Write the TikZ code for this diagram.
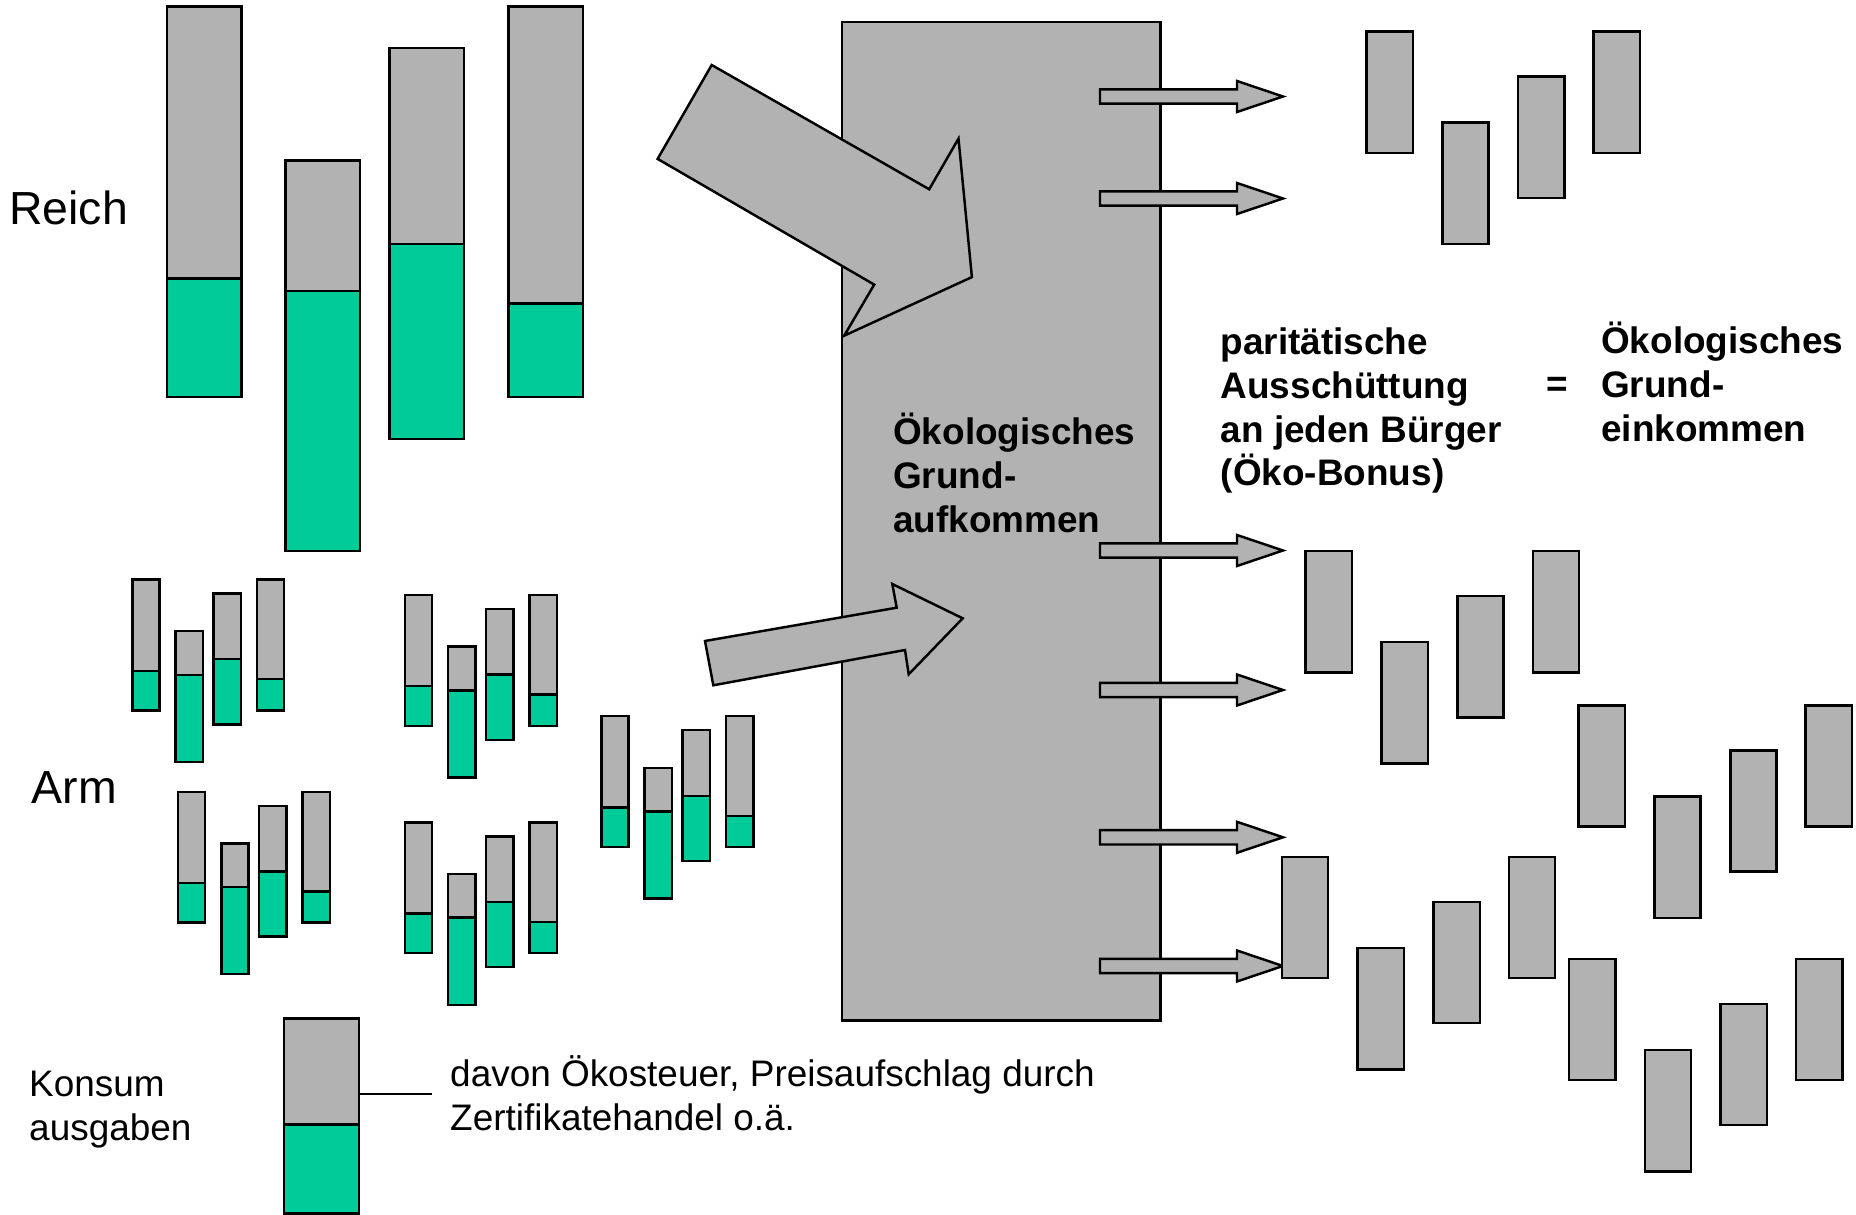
\documentclass[tikz,border=0pt]{standalone}
\usepackage{fontspec}
\setmainfont{Liberation Sans}
\usetikzlibrary{positioning}
\definecolor{barGrey}{RGB}{178,178,178}
\definecolor{ecoGreen}{RGB}{0,204,153}

\begin{document}
\begin{tikzpicture}[x=0.01cm, y=-0.01cm, line width=0.7pt,
    consumption/.style={draw, fill=barGrey},
    ecotax/.style={draw, fill=ecoGreen},
    txt/.style={anchor=base west, inner sep=0pt, align=left, font=\fontsize{10.5}{12.4}\selectfont},
    boldtxt/.style={txt, font=\fontsize{10.5}{12.4}\selectfont\bfseries},
    bigtxt/.style={anchor=base west, inner sep=0pt, font=\fontsize{13.2}{15}\selectfont}]
    \useasboundingbox (0,0) rectangle (1856,1215);

    % Reich: one group at full size, Arm: five small copies of it
    \foreach \gx/\gy/\sx/\sy in {166.9/6.4/1/1, 132.3/579.6/.365/.335, 404.9/595.1/.365/.335,
        178/791.8/.365/.335, 404.9/822.3/.365/.335, 601.4/716.2/.365/.335}{
        \begin{scope}[shift={(\gx,\gy)}, xscale=\sx, yscale=\sy]
            \foreach \dx/\dy/\cut in {0/0/272.1, 118.6/153.9/130.7, 222.6/41.8/195.7, 341.6/0/297.1}{
                \filldraw[consumption] (\dx,\dy) rectangle ++(74.5,\cut);
                \filldraw[ecotax] (\dx,\dy+\cut) rectangle (\dx+74.5,\dy+390.7);
            }
        \end{scope}
    }
    \node[bigtxt] (reich) at (8,225) {Reich};
    \node[bigtxt] (arm) at (30.5,803.5) {Arm};

    % the pool (multi-line nodes sit on their last line)
    \node[consumption, anchor=north west, inner sep=0pt, minimum width=3.18cm, minimum height=9.98cm] (pool) at (841,20.7) {};
    \node[boldtxt] (pooltext) at (892,532) {Ökologisches\\Grund-\\aufkommen};

    % money flowing in
    \filldraw[consumption] (711.7,65) -- (929.2,189.3) -- (958.5,138.6) -- (971.9,277.1)
        -- (844.2,335.7) -- (874.2,284.6) -- (657.6,158.9) -- cycle;
    \filldraw[consumption] (705,641) -- (896.7,607.7) -- (892.3,584) -- (962.7,618.3)
        -- (908.7,674.3) -- (905,650) -- (713.3,685.3) -- cycle;

    % money flowing out
    \foreach \ay in {96.5, 198.5, 550.5, 690, 837.3, 966}
        \filldraw[consumption] (1100,\ay-7.2) -- (1237,\ay-7.2) -- (1237,\ay-15.5) -- (1283,\ay)
            -- (1237,\ay+15.5) -- (1237,\ay+7.2) -- (1100,\ay+7.2) -- cycle;

    % every citizen gets the same share
    \foreach \gx/\gy in {1366.5/31.4, 1305.7/551, 1578.6/705.3, 1281.8/856.8, 1569/958.8}
        \foreach \dx/\dy in {0/0, 75.8/91.1, 151.7/45, 227.1/0}
            \filldraw[consumption] (\gx+\dx,\gy+\dy) rectangle ++(46.3,121.4);

    \node[boldtxt] (share) at (1219.5,485.7) {paritätische\\Ausschüttung\\an jeden Bürger\\(Öko-Bonus)};
    \node[boldtxt] (equals) at (1545,396) {=};
    \node[boldtxt] (income) at (1600,441) {Ökologisches\\Grund-\\einkommen};

    % legend
    \filldraw[consumption] (284,1018.6) rectangle (359.1,1124.7);
    \filldraw[ecotax] (284,1124.7) rectangle (359.1,1213.5);
    \coordinate (legtick) at (359.1,1093.8);
    \coordinate (taxline) at (431.7,1093.8);
    \draw (legtick) -- (taxline);
    \node[txt] (consumer) at (28,1140.6) {Konsum\\ausgaben};
    \node[txt] (taxnote) at (449,1130) {davon Ökosteuer, Preisaufschlag durch\\Zertifikatehandel o.ä.};
\end{tikzpicture}
\end{document}
